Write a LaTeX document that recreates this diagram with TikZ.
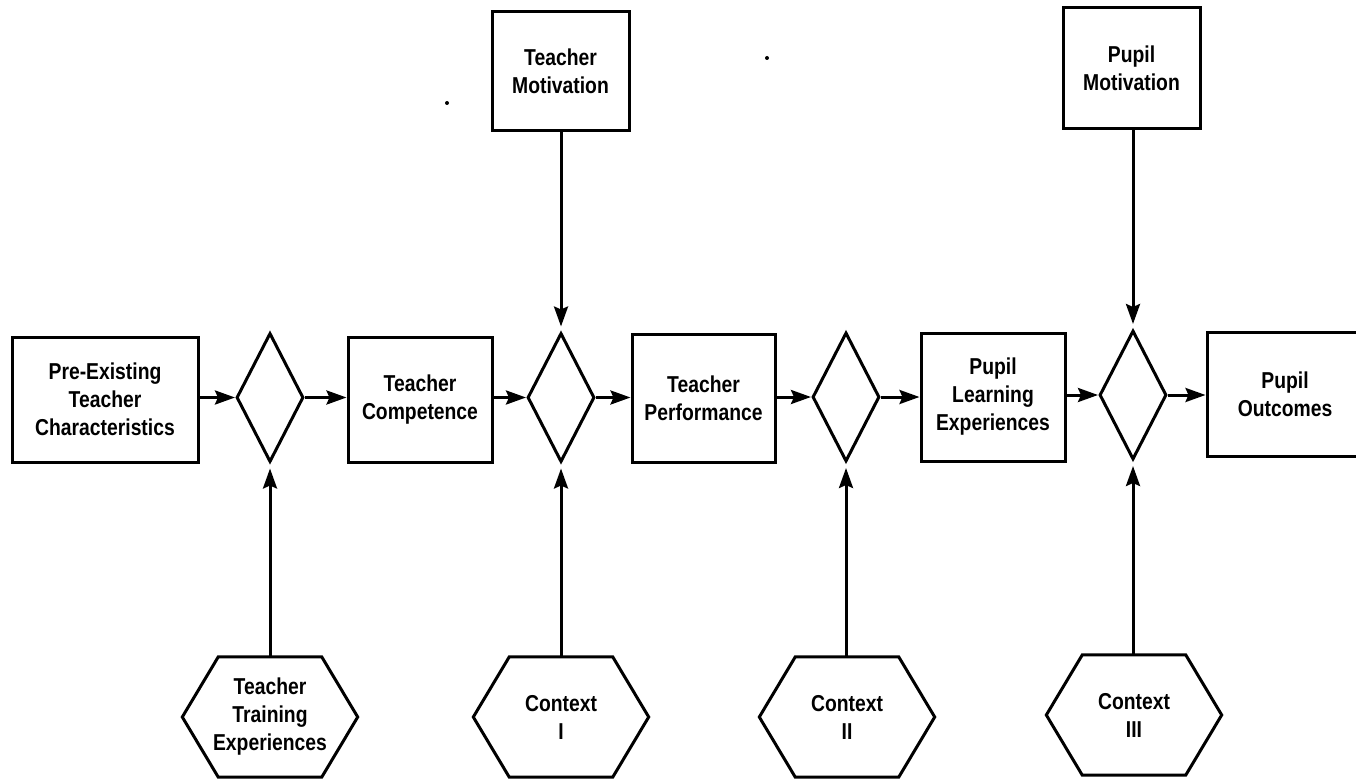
\documentclass[tikz,border=0pt]{standalone}
\usepackage{fontspec}
\setmainfont{Liberation Sans}[FakeStretch=0.84]
\usetikzlibrary{shapes.geometric,arrows.meta}
\tikzset{
  lw/.style={line width=3pt},
  box/.style={draw,lw,rectangle,inner sep=0pt,align=center,font=\fontsize{23}{28}\selectfont\bfseries},
  dia/.style={draw,lw,diamond,inner sep=0pt,minimum width=67pt,minimum height=129pt},
  hexbox/.style={inner sep=0pt,minimum width=175pt,minimum height=120pt,align=center,font=\fontsize{23}{28}\selectfont\bfseries},
  conn/.style={lw,-{Stealth[length=20pt,width=14pt,inset=3pt]}},
}
\newcommand{\hexframe}[1]{%
  \draw[lw,line join=miter] ([xshift=36pt]#1.north west) -- ([xshift=-36pt]#1.north east) -- (#1.east)
    -- ([xshift=-36pt]#1.south east) -- ([xshift=36pt]#1.south west) -- (#1.west) -- cycle;}
\begin{document}
\begin{tikzpicture}[x=1pt,y=-1pt]
\useasboundingbox (0,0) rectangle (1356,781);
\clip (0,0) rectangle (1356,781);
% main row boxes
\node[box,minimum width=186pt,minimum height=125pt] (b1) at (105,399.5) {Pre-Existing\\Teacher\\Characteristics};
\node[box,minimum width=144pt,minimum height=125pt] (b2) at (420,399.5) {Teacher\\Competence};
\node[box,minimum width=143pt,minimum height=128pt] (b3) at (703.5,398) {Teacher\\Performance};
\node[box,minimum width=144pt,minimum height=128pt] (b4) at (993,397) {Pupil\\Learning\\Experiences};
\node[box,minimum width=156pt,minimum height=124pt] (b5) at (1285,394) {Pupil\\Outcomes};
% diamonds
\node[dia] (d1) at (270,397.5) {};
\node[dia] (d2) at (561,397.5) {};
\node[dia] (d3) at (846,397) {};
\node[dia] (d4) at (1133,395) {};
% motivation boxes
\node[box,minimum width=137pt,minimum height=118pt] (tm) at (560.5,71) {Teacher\\Motivation};
\node[box,minimum width=137pt,minimum height=120pt] (pm) at (1131.5,68) {Pupil\\Motivation};
% hexagons
\node[hexbox] (h1) at (270,717) {Teacher\\Training\\Experiences};
\node[hexbox] (h2) at (561,717) {Context\\I};
\node[hexbox] (h3) at (847,717) {Context\\II};
\node[hexbox] (h4) at (1134,715) {Context\\III};
\hexframe{h1}\hexframe{h2}\hexframe{h3}\hexframe{h4}
% horizontal connectors
\draw[conn] (b1.east |- d1.west) -- (d1.west);
\draw[conn] (d1.east) -- (d1.east -| b2.west);
\draw[conn] (b2.east |- d2.west) -- (d2.west);
\draw[conn] (d2.east) -- (d2.east -| b3.west);
\draw[conn] (b3.east |- d3.west) -- (d3.west);
\draw[conn] (d3.east) -- (d3.east -| b4.west);
\draw[conn] (b4.east |- d4.west) -- (d4.west);
\draw[conn] (d4.east) -- (d4.east -| b5.west);
% vertical connectors
\draw[conn,shorten >=5pt] (tm.south -| d2.north) -- (d2.north);
\draw[conn,shorten >=5pt] (pm.south -| d4.north) -- (d4.north);
\draw[conn,shorten >=5pt] (h1.north -| d1.south) -- (d1.south);
\draw[conn,shorten >=5pt] (h2.north -| d2.south) -- (d2.south);
\draw[conn,shorten >=5pt] (h3.north -| d3.south) -- (d3.south);
\draw[conn,shorten >=5pt] (h4.north -| d4.south) -- (d4.south);
% specks
\fill (447,103) circle (2pt);
\fill (767,58) circle (2pt);
\end{tikzpicture}
\end{document}
